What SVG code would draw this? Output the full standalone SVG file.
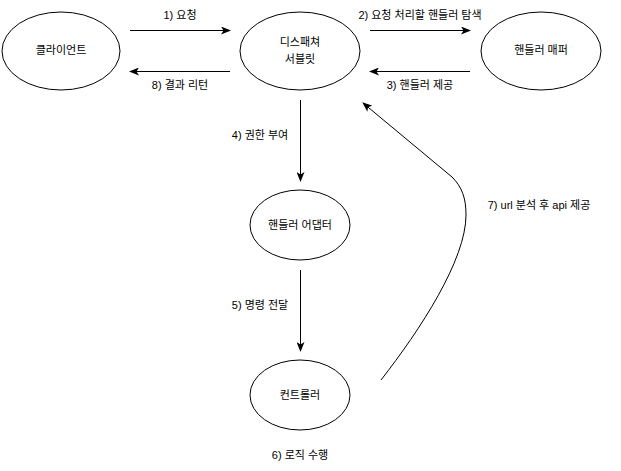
<svg xmlns="http://www.w3.org/2000/svg" width="621" height="471" viewBox="0 0 621 471">
<style>
.node{fill:#fff;stroke:#000;stroke-width:1}
.t{font-family:"Liberation Sans","Noto Sans CJK KR",sans-serif;font-size:11px;fill:#000;text-anchor:middle;dominant-baseline:central}
.e{fill:none;stroke:#000;stroke-width:1}
</style>
<defs>
<marker id="ah" viewBox="0 0 10 8" refX="9" refY="4" markerWidth="10" markerHeight="8" markerUnits="userSpaceOnUse" orient="auto">
<path d="M0,0 L10,4 L0,8 L2.5,4 z" fill="#000"/>
</marker>
</defs>
<rect width="621" height="471" fill="#fff"/>
<g id="connectors">
<line class="e" x1="130" y1="30.5" x2="230" y2="30.5" marker-end="url(#ah)"/>
<line class="e" x1="230" y1="71.5" x2="130" y2="71.5" marker-end="url(#ah)"/>
<line class="e" x1="370" y1="30.5" x2="470" y2="30.5" marker-end="url(#ah)"/>
<line class="e" x1="470" y1="71.5" x2="370" y2="71.5" marker-end="url(#ah)"/>
<line class="e" x1="300.5" y1="100" x2="300.5" y2="181" marker-end="url(#ah)"/>
<line class="e" x1="300.5" y1="270" x2="300.5" y2="351" marker-end="url(#ah)"/>
<path class="e" d="M381,380 C420,330 466,260 466,215 C466,198 462,187 452,177 L363,103" marker-end="url(#ah)"/>
<text class="t" x="180" y="15">1) 요청</text>
<text class="t" x="180" y="85">8) 결과 리턴</text>
<text class="t" x="420" y="15">2) 요청 처리할 핸들러 탐색</text>
<text class="t" x="420" y="85">3) 핸들러 제공</text>
<text class="t" x="260" y="135">4) 권한 부여</text>
<text class="t" x="260" y="305">5) 명령 전달</text>
<text class="t" x="300" y="455">6) 로직 수행</text>
<text class="t" x="539" y="205">7) url 분석 후 api 제공</text>
</g>
<g id="client">
<ellipse class="node" cx="61" cy="51" rx="59" ry="39"/>
<text class="t" x="61" y="50">클라이언트</text>
</g>
<g id="dispatcher">
<ellipse class="node" cx="300" cy="51" rx="60" ry="39"/>
<text class="t" x="300" y="42">디스패쳐</text>
<text class="t" x="300" y="59">서블릿</text>
</g>
<g id="mapper">
<ellipse class="node" cx="541" cy="51" rx="60" ry="39"/>
<text class="t" x="541" y="50">핸들러 매퍼</text>
</g>
<g id="adapter">
<ellipse class="node" cx="300" cy="225" rx="50" ry="35"/>
<text class="t" x="300" y="225">핸들러 어댑터</text>
</g>
<g id="controller">
<ellipse class="node" cx="300" cy="395" rx="50" ry="35"/>
<text class="t" x="300" y="395">컨트롤러</text>
</g>
</svg>
